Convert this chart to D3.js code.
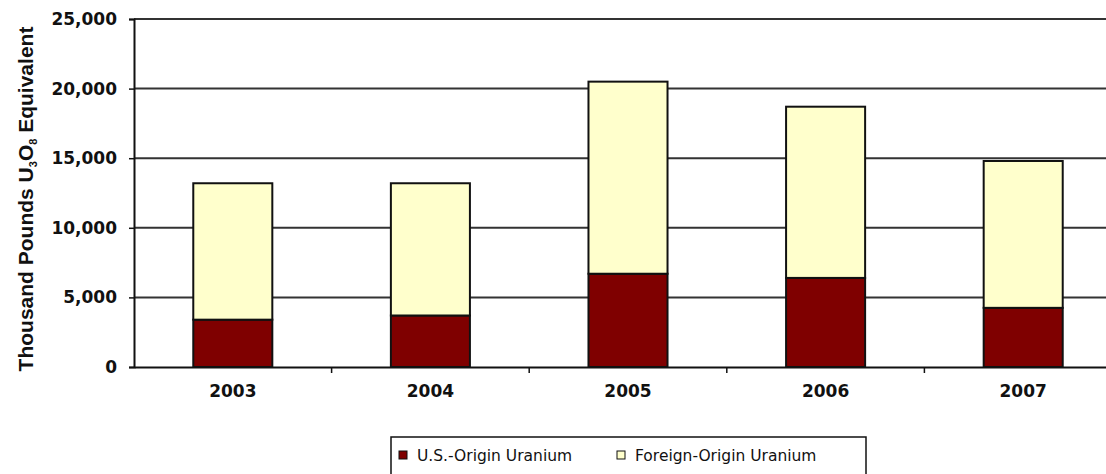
<!DOCTYPE html>
<html>
<head>
<meta charset="utf-8">
<script src="https://cdn.jsdelivr.net/npm/d3@7"></script>
<style>
  body { margin: 0; background: #fff; }
  svg { display: block; font-family: "DejaVu Sans", Arial, sans-serif; }
</style>
</head>
<body>
<svg width="1106" height="474"></svg>
<script>
const years = ['2003', '2004', '2005', '2006', '2007'];
const usOrigin = [3400, 3700, 6700, 6400, 4250];
const foreignOrigin = [9800, 9500, 13800, 12300, 10550];
const yTicks = [0, 5000, 10000, 15000, 20000, 25000];
const seriesNames = ['U.S.-Origin Uranium', 'Foreign-Origin Uranium'];
const seriesColors = ['#7f0000', '#ffffcc'];

const svg = d3.select('svg');
const plotLeft = 134, plotTop = 19, plotBottom = 367, plotRight = 1122;
const fontFam = '"DejaVu Sans", Arial, sans-serif';

const xScale = d3.scaleBand()
  .domain(years)
  .range([plotLeft, plotRight])
  .paddingInner(0.6)
  .paddingOuter(0.3);

const yScale = d3.scaleLinear()
  .domain([0, 25000])
  .range([plotBottom, plotTop]);

// gridlines
svg.append('g')
  .selectAll('line')
  .data(yTicks.slice(1))
  .enter()
  .append('line')
  .attr('x1', plotLeft)
  .attr('x2', 1106)
  .attr('y1', d => yScale(d))
  .attr('y2', d => yScale(d))
  .attr('stroke', '#333')
  .attr('stroke-width', 2);

const rows = years.map((y, i) => ({ year: y, us: usOrigin[i], foreign: foreignOrigin[i] }));
const stacked = d3.stack().keys(['us', 'foreign'])(rows);

svg.append('g')
  .selectAll('g')
  .data(stacked)
  .enter()
  .append('g')
  .attr('fill', (d, i) => seriesColors[i])
  .selectAll('rect')
  .data(d => d)
  .enter()
  .append('rect')
  .attr('x', d => xScale(d.data.year))
  .attr('width', xScale.bandwidth())
  .attr('y', d => yScale(d[1]))
  .attr('height', d => yScale(d[0]) - yScale(d[1]))
  .attr('stroke', '#111')
  .attr('stroke-width', 2);

// y axis
const yAxis = d3.axisLeft(yScale)
  .tickValues(yTicks)
  .tickSize(5)
  .tickPadding(12)
  .tickFormat(d3.format(','));

const yG = svg.append('g')
  .attr('transform', `translate(${plotLeft},0)`)
  .call(yAxis);
yG.select('.domain').attr('stroke', '#111').attr('stroke-width', 2);
yG.selectAll('.tick line').attr('stroke', '#111').attr('stroke-width', 1.5);
yG.selectAll('.tick text')
  .attr('font-size', 17)
  .attr('font-weight', 'bold')
  .attr('fill', '#111')
  .attr('font-family', fontFam);

// x axis
const xAxis = d3.axisBottom(xScale).tickSize(0).tickPadding(18);
const xG = svg.append('g')
  .attr('transform', `translate(0,${plotBottom})`)
  .call(xAxis);
xG.select('.domain').attr('stroke', '#111').attr('stroke-width', 2);
xG.selectAll('.tick text')
  .attr('font-size', 17)
  .attr('font-weight', 'bold')
  .attr('fill', '#111')
  .attr('font-family', fontFam);

// tick marks between categories
xG.selectAll('line.sep')
  .data(years.slice(1))
  .enter()
  .append('line')
  .attr('class', 'sep')
  .attr('x1', d => xScale(d) - xScale.step() * xScale.paddingInner() / 2)
  .attr('x2', d => xScale(d) - xScale.step() * xScale.paddingInner() / 2)
  .attr('y1', 0)
  .attr('y2', 6)
  .attr('stroke', '#111')
  .attr('stroke-width', 1.5);

// y title
const title = svg.append('text')
  .attr('transform', `translate(33,${(plotTop + plotBottom) / 2 + 6}) rotate(-90)`)
  .attr('text-anchor', 'middle')
  .attr('font-size', 21)
  .attr('font-weight', 'bold')
  .attr('font-family', '"Liberation Sans", Arial, sans-serif')
  .attr('fill', '#111');
title.append('tspan').text('Thousand Pounds U');
title.append('tspan').attr('font-size', 11).attr('dy', 4).text('3');
title.append('tspan').attr('dy', -4).text('O');
title.append('tspan').attr('font-size', 11).attr('dy', 4).text('8');
title.append('tspan').attr('dy', -4).text(' Equivalent');

// legend
const legend = svg.append('g').attr('transform', 'translate(391,437)');
legend.append('rect')
  .attr('width', 475)
  .attr('height', 50)
  .attr('fill', '#fff')
  .attr('stroke', '#111')
  .attr('stroke-width', 1.5);

const legendX = [8, 226];
const items = legend.selectAll('g.item')
  .data(seriesNames)
  .enter()
  .append('g')
  .attr('class', 'item')
  .attr('transform', (d, i) => `translate(${legendX[i]},14)`);
items.append('rect')
  .attr('width', 8)
  .attr('height', 8)
  .attr('fill', (d, i) => seriesColors[i])
  .attr('stroke', '#111')
  .attr('stroke-width', 1);
items.append('text')
  .attr('x', 18)
  .attr('y', 10)
  .attr('font-size', 15.5)
  .attr('fill', '#111')
  .text(d => d);
</script>
</body>
</html>
